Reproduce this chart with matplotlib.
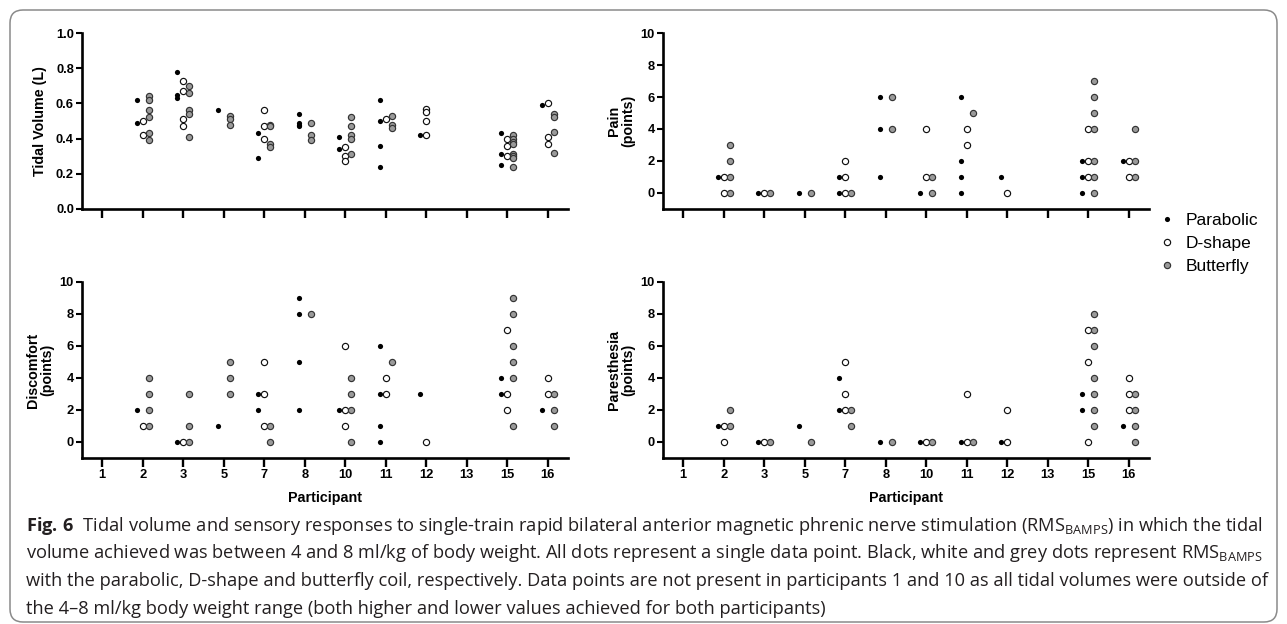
import matplotlib
matplotlib.use('Agg')
import matplotlib.pyplot as plt
from matplotlib.lines import Line2D
from matplotlib.patches import FancyBboxPatch

# ---------------- data ----------------
participants = ['1', '2', '3', '5', '7', '8', '10', '11', '12', '13', '15', '16']

tidal_parabolic = [[], [0.62, 0.49], [0.78, 0.65, 0.63], [0.56], [0.43, 0.29],
                   [0.54, 0.49, 0.48, 0.47], [0.41, 0.34], [0.62, 0.50, 0.36, 0.24],
                   [0.42], [], [0.43, 0.31, 0.25], [0.59]]
tidal_dshape = [[], [0.50, 0.42], [0.73, 0.67, 0.51, 0.47], [], [0.56, 0.47, 0.40],
                [], [0.35, 0.30, 0.27], [0.51], [0.57, 0.55, 0.50, 0.42], [],
                [0.40, 0.36, 0.30], [0.60, 0.41, 0.37]]
tidal_butterfly = [[], [0.64, 0.62, 0.56, 0.52, 0.43, 0.39], [0.70, 0.66, 0.56, 0.54, 0.41],
                   [0.53, 0.51, 0.48], [0.48, 0.47, 0.37, 0.35], [0.49, 0.42, 0.39],
                   [0.52, 0.47, 0.42, 0.40, 0.31], [0.53, 0.48, 0.46], [], [],
                   [0.42, 0.40, 0.38, 0.37, 0.31, 0.30, 0.29, 0.24], [0.54, 0.52, 0.44, 0.32]]

pain_parabolic = [[], [1], [0], [0], [1, 0], [6, 4, 1], [0], [6, 2, 1, 0], [1], [], [2, 1, 0], [2]]
pain_dshape = [[], [1, 0], [0], [], [2, 1, 0], [], [4, 1], [4, 3], [0], [], [4, 2, 1], [2, 1]]
pain_butterfly = [[], [3, 2, 1, 0], [0], [0], [0], [6, 4], [1, 0], [5], [], [],
                  [7, 6, 5, 4, 2, 1, 0], [4, 2, 1]]

disc_parabolic = [[], [2], [0], [1], [3, 2], [9, 8, 5, 2], [2], [6, 3, 1, 0], [3], [], [4, 3], [2]]
disc_dshape = [[], [1], [0], [], [5, 3, 1], [], [6, 2, 1], [4, 3], [0], [], [7, 3, 2], [4, 3]]
disc_butterfly = [[], [4, 3, 2, 1], [3, 1, 0], [5, 4, 3], [1, 0], [8], [4, 3, 2, 0], [5], [], [],
                  [9, 8, 6, 5, 4, 1], [3, 2, 1]]

par_parabolic = [[], [1], [0], [1], [4, 2], [0], [0], [0], [0], [], [3, 2], [1]]
par_dshape = [[], [1, 0], [0], [], [5, 3, 2], [], [0], [3, 0], [2, 0], [], [7, 5, 0], [4, 3, 2]]
par_butterfly = [[], [2, 1], [0], [0], [2, 1], [0], [0], [0], [], [],
                 [8, 7, 6, 4, 3, 2, 1], [3, 2, 1, 0]]

series_names = ['Parabolic', 'D-shape', 'Butterfly']

caption_lines = [
    r"$\mathbf{Fig.\,6}$  Tidal volume and sensory responses to single-train rapid bilateral anterior magnetic phrenic nerve stimulation ($\mathrm{RMS}_{\mathrm{BAMPS}}$) in which the tidal",
    r"volume achieved was between 4 and 8 ml/kg of body weight. All dots represent a single data point. Black, white and grey dots represent $\mathrm{RMS}_{\mathrm{BAMPS}}$",
    "with the parabolic, D-shape and butterfly coil, respectively. Data points are not present in participants 1 and 10 as all tidal volumes were outside of",
    "the 4–8 ml/kg body weight range (both higher and lower values achieved for both participants)",
]

# ---------------- style ----------------
W, H = 1287, 624
plt.rcParams['font.family'] = ['Liberation Sans', 'DejaVu Sans']
plt.rcParams['mathtext.fontset'] = 'custom'
plt.rcParams['mathtext.rm'] = 'Open Sans'
plt.rcParams['mathtext.it'] = 'Open Sans:italic'
plt.rcParams['mathtext.bf'] = 'Open Sans:bold'

fig = plt.figure(figsize=(W / 100, H / 100), dpi=100)
fig.patch.set_facecolor('white')

styles = [
    dict(s=14, facecolor='black', edgecolor='black', linewidths=0.0),
    dict(s=20, facecolor='white', edgecolor='#111111', linewidths=0.85),
    dict(s=20, facecolor='#9a9a9a', edgecolor='#333333', linewidths=0.85),
]
offsets = [-0.15, 0.0, 0.15]

AX_W = 486


def make_axes(x0, ytop, ybot):
    return fig.add_axes([x0 / W, 1 - ybot / H, AX_W / W, (ybot - ytop) / H])


def draw_panel(ax, data_sets, ylim, yticks, yticklabels, ylabel, show_xlabels):
    for data, style, off in zip(data_sets, styles, offsets):
        xs, ys = [], []
        for i, vals in enumerate(data):
            xs += [i + off] * len(vals)
            ys += list(vals)
        ax.scatter(xs, ys, zorder=3, clip_on=False, **style)
    ax.set_xlim(-0.5, len(participants) - 0.5)
    ax.set_ylim(*ylim)
    for sp in ['top', 'right']:
        ax.spines[sp].set_visible(False)
    for sp in ['left', 'bottom']:
        ax.spines[sp].set_linewidth(1.9)
    ax.set_yticks(yticks)
    ax.set_yticklabels(yticklabels, fontsize=9.3, fontweight='bold')
    ax.set_xticks(range(len(participants)))
    if show_xlabels:
        ax.set_xticklabels(participants, fontsize=9.3, fontweight='bold')
        ax.set_xlabel('Participant', fontsize=10.3, fontweight='bold', labelpad=7)
    else:
        ax.set_xticklabels([])
    ax.tick_params(axis='x', length=6.5, width=1.7, direction='out', pad=1.5)
    ax.tick_params(axis='y', length=4.3, width=1.5, direction='out', pad=1.5)
    ax.text(-42 / AX_W, 0.5, ylabel, transform=ax.transAxes, rotation=90,
            rotation_mode='anchor', ha='center', va='center',
            fontsize=10.3, fontweight='bold', linespacing=1.0)


ax1 = make_axes(82, 33, 209)
draw_panel(ax1, [tidal_parabolic, tidal_dshape, tidal_butterfly], (0, 1.0),
           [0, 0.2, 0.4, 0.6, 0.8, 1.0], ['0.0', '0.2', '0.4', '0.6', '0.8', '1.0'],
           'Tidal Volume (L)', False)

ticks10 = [0, 2, 4, 6, 8, 10]
tl10 = [str(t) for t in ticks10]

ax2 = make_axes(663, 33, 209)
draw_panel(ax2, [pain_parabolic, pain_dshape, pain_butterfly], (-1, 10), ticks10, tl10,
           'Pain\n(points)', False)

ax3 = make_axes(82, 282, 458)
draw_panel(ax3, [disc_parabolic, disc_dshape, disc_butterfly], (-1, 10), ticks10, tl10,
           'Discomfort\n(points)', True)

ax4 = make_axes(663, 282, 458)
draw_panel(ax4, [par_parabolic, par_dshape, par_butterfly], (-1, 10), ticks10, tl10,
           'Paresthesia\n(points)', True)

# legend
handles = [
    Line2D([], [], ls='', marker='o', markersize=3.7, mfc='black', mec='black', mew=0),
    Line2D([], [], ls='', marker='o', markersize=4.5, mfc='white', mec='#111111', mew=0.85),
    Line2D([], [], ls='', marker='o', markersize=4.5, mfc='#9a9a9a', mec='#333333', mew=0.85),
]
fig.legend(handles, series_names, loc='upper left', bbox_to_anchor=(1158 / W, 1 - 213 / H),
           frameon=False, fontsize=12.5, handlelength=1.0, handletextpad=0.6,
           labelspacing=0.45, borderaxespad=0, borderpad=0)

# frame
fig.patches.append(FancyBboxPatch((10 / 100, 2 / 100), 1267 / 100, 612 / 100,
                                  boxstyle='round,pad=0,rounding_size=0.13',
                                  transform=fig.dpi_scale_trans, fill=False,
                                  ec='#8a8a8a', lw=1.1))

# caption
renderer = fig.canvas.get_renderer()
probe = fig.text(0, 0, caption_lines[0], fontsize=12, family=['Open Sans', 'DejaVu Sans'])
w = probe.get_window_extent(renderer).width
probe.remove()
fs = 12 * 1238 / w
for k, line in enumerate(caption_lines):
    fig.text(26 / W, 1 - (526 + 27.5 * k) / H, line, fontsize=fs,
             family=['Open Sans', 'DejaVu Sans'], color='#231f20', va='center', ha='left')

fig.savefig('out.png', dpi=100)
